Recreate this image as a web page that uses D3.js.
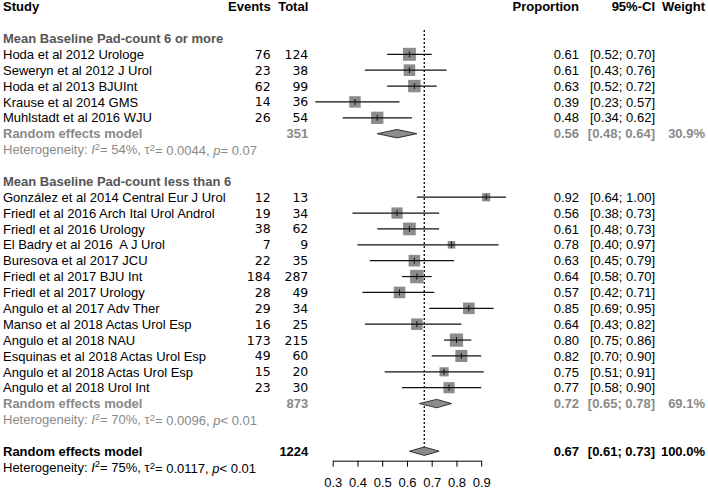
<!DOCTYPE html>
<html><head><meta charset="utf-8">
<script src="https://cdn.jsdelivr.net/npm/d3@7"></script>
<style>
html,body{margin:0;padding:0;background:#fff;}
svg{display:block;font-family:"Liberation Sans",Arial,sans-serif;}
text{white-space:pre;}
</style></head>
<body>
<script>
// ---- data ----
const groupLabels = ["Mean Baseline Pad-count 6 or more", "Mean Baseline Pad-count less than 6"];
const studies = [
  "Hoda et al 2012 Urologe", "Seweryn et al 2012 J Urol", "Hoda et al 2013 BJUInt",
  "Krause et al 2014 GMS", "Muhlstadt et al 2016 WJU",
  "González et al 2014 Central Eur J Urol", "Friedl et al 2016 Arch Ital Urol Androl",
  "Friedl et al 2016 Urology", "El Badry et al 2016  A J Urol", "Buresova et al 2017 JCU",
  "Friedl et al 2017 BJU Int", "Friedl et al 2017 Urology", "Angulo et al 2017 Adv Ther",
  "Manso et al 2018 Actas Urol Esp", "Angulo et al 2018 NAU", "Esquinas et al 2018 Actas Urol Esp",
  "Angulo et al 2018 Actas Urol Esp", "Angulo et al 2018 Urol Int"
];
const studyGroup = [0,0,0,0,0, 1,1,1,1,1,1,1,1,1,1,1,1,1];
const events = [76,23,62,14,26, 12,19,38,7,22,184,28,29,16,173,49,15,23];
const totals = [124,38,99,36,54, 13,34,62,9,35,287,49,34,25,215,60,20,30];
const proportion = [0.61,0.61,0.63,0.39,0.48, 0.92,0.56,0.61,0.78,0.63,0.64,0.57,0.85,0.64,0.80,0.82,0.75,0.77];
const lower = [0.52,0.43,0.52,0.23,0.34, 0.64,0.38,0.48,0.40,0.45,0.58,0.42,0.69,0.43,0.75,0.70,0.51,0.58];
const upper = [0.70,0.76,0.72,0.57,0.62, 1.00,0.73,0.73,0.97,0.79,0.70,0.71,0.95,0.82,0.86,0.90,0.91,0.90];
// estimated individual study weights (%) (random effects)
const weights = [7.0,5.6,6.5,5.5,6.3, 2.8,5.3,6.7,2.4,5.6,7.5,5.6,5.6,5.5,7.3,6.1,3.5,5.2];

const groupTotal = [351, 873];
const groupEst = [0.56, 0.72];
const groupLower = [0.48, 0.65];
const groupUpper = [0.64, 0.78];
const groupWeight = ["30.9%", "69.1%"];
const groupHet = [
  {i2: "54%", tau2: "0.0044", p: "= 0.07"},
  {i2: "70%", tau2: "0.0096", p: "< 0.01"}
];
const overall = {total: 1224, est: 0.67, lower: 0.61, upper: 0.73, weight: "100.0%",
  i2: "75%", tau2: "0.0117", p: "< 0.01"};
const axisTicks = [0.3, 0.4, 0.5, 0.6, 0.7, 0.8, 0.9];

// ---- layout ----
const W = 708, H = 490;
const svg = d3.select("body").append("svg").attr("width", W).attr("height", H);
const x = d3.scaleLinear().domain([0.3, 0.9]).range([332.7, 481.2]);
const y = d3.scaleLinear().domain([3, 24]).range([54.3, 387.7]);
const boxSide = d3.scaleSqrt().domain([0, 7.5]).range([0, 13.4]);
const fs = 13;
const grey = "#8a8a8a", hdrGrey = "#555";
const numFont = "DejaVu Sans, sans-serif";
const colStudy = 3, colEvents = 270.7, colTotal = 308.3, colProp = 579, colCI = 655, colW = 705;

// assign rows
const rows = [];
let r = 2;
groupLabels.forEach((g, gi) => {
  rows.push({type: "ghead", row: r++, label: g});
  studies.forEach((s, i) => { if (studyGroup[i] === gi) rows.push({type: "study", row: r++, i}); });
  rows.push({type: "grand", row: r++, gi});
  rows.push({type: "ghet", row: r++, gi});
  r++;
});
const overallRow = r, overallHetRow = r + 1;

function txt(xp, row, s, opt = {}) {
  const t = svg.append("text").attr("x", xp).attr("y", y(row)).attr("dy", "0.36em")
    .attr("font-size", opt.size || fs).attr("font-weight", opt.bold ? "bold" : "normal")
    .attr("fill", opt.color || "#000").attr("text-anchor", opt.anchor || "start").text(s);
  if (opt.family) t.attr("font-family", opt.family);
  return t;
}
function het(row, h, color) {
  const t = svg.append("text").attr("x", colStudy).attr("y", y(row)).attr("dy", "0.36em")
    .attr("font-size", 13).attr("fill", color);
  t.append("tspan").text("Heterogeneity: ");
  t.append("tspan").attr("font-style", "italic").text("I");
  t.append("tspan").attr("font-size", 9.5).attr("dy", "-0.45em").text("2");
  t.append("tspan").attr("dy", "0.32em").text("= " + h.i2 + ", τ");
  t.append("tspan").attr("font-size", 9.5).attr("dy", "-0.32em").text("2");
  t.append("tspan").attr("dy", "0.32em").text("= " + h.tau2 + ", ");
  t.append("tspan").attr("font-style", "italic").text("p");
  t.append("tspan").text(h.p);
}
const f2 = d3.format(".2f");
const ciText = (l, u) => "[" + f2(l) + "; " + f2(u) + "]";

// headers
txt(colStudy, 0, "Study", {bold: true});
txt(colEvents, 0, "Events", {bold: true, anchor: "end"});
txt(colTotal, 0, "Total", {bold: true, anchor: "end"});
txt(colProp, 0, "Proportion", {bold: true, anchor: "end"});
txt(colCI, 0, "95%-CI", {bold: true, anchor: "end"});
txt(colW, 0, "Weight", {bold: true, anchor: "end"});

// reference dotted line at overall estimate
svg.append("line").attr("x1", x(overall.est)).attr("x2", x(overall.est))
  .attr("y1", 30).attr("y2", y(overallRow) - 3)
  .attr("stroke", "#000").attr("stroke-width", 1.3).attr("stroke-dasharray", "2,2");

function diamond(row, lo, est, hi, color) {
  const yc = y(row), h = 4.2;
  svg.append("path")
    .attr("d", `M${x(lo)},${yc}L${x(est)},${yc - h}L${x(hi)},${yc}L${x(est)},${yc + h}Z`)
    .attr("fill", "#8c8c8c").attr("stroke", color).attr("stroke-width", 1);
}

rows.forEach(d => {
  if (d.type === "ghead") {
    txt(colStudy, d.row, d.label, {bold: true, color: hdrGrey});
  } else if (d.type === "study") {
    const i = d.i, yc = y(d.row), s = boxSide(weights[i]);
    txt(colStudy, d.row, studies[i]);
    txt(colEvents, d.row, events[i], {anchor: "end", family: numFont, size: 12.5});
    txt(colTotal, d.row, totals[i], {anchor: "end", family: numFont, size: 12.5});
    txt(colProp, d.row, f2(proportion[i]), {anchor: "end"});
    txt(colCI, d.row, ciText(lower[i], upper[i]), {anchor: "end"});
    svg.append("rect").attr("x", x(proportion[i]) - s / 2).attr("y", yc - s / 2)
      .attr("width", s).attr("height", s).attr("fill", "#8c8c8c");
    svg.append("line").attr("x1", x(lower[i])).attr("x2", x(upper[i]))
      .attr("y1", yc).attr("y2", yc).attr("stroke", "#111").attr("stroke-width", 1.2);
    svg.append("line").attr("x1", x(proportion[i])).attr("x2", x(proportion[i]))
      .attr("y1", yc - 3).attr("y2", yc + 3).attr("stroke", "#111").attr("stroke-width", 1);
  } else if (d.type === "grand") {
    const gi = d.gi;
    txt(colStudy, d.row, "Random effects model", {bold: true, color: grey});
    txt(colTotal, d.row, groupTotal[gi], {bold: true, color: grey, anchor: "end"});
    txt(colProp, d.row, f2(groupEst[gi]), {bold: true, color: grey, anchor: "end"});
    txt(colCI, d.row, ciText(groupLower[gi], groupUpper[gi]), {bold: true, color: grey, anchor: "end"});
    txt(colW, d.row, groupWeight[gi], {bold: true, color: grey, anchor: "end"});
    diamond(d.row, groupLower[gi], groupEst[gi], groupUpper[gi], "#333");
  } else if (d.type === "ghet") {
    het(d.row, groupHet[d.gi], grey);
  }
});

// overall
txt(colStudy, overallRow, "Random effects model", {bold: true});
txt(colTotal, overallRow, overall.total, {bold: true, anchor: "end"});
txt(colProp, overallRow, f2(overall.est), {bold: true, anchor: "end"});
txt(colCI, overallRow, ciText(overall.lower, overall.upper), {bold: true, anchor: "end"});
txt(colW, overallRow, overall.weight, {bold: true, anchor: "end"});
diamond(overallRow, overall.lower, overall.est, overall.upper, "#333");
het(overallHetRow, overall, "#000");

// axis
const ax = svg.append("g").attr("transform", "translate(0,460.7)")
  .call(d3.axisBottom(x).tickValues(axisTicks).tickFormat(d3.format(".1f"))
    .tickSize(6).tickSizeOuter(0).tickPadding(11));
ax.selectAll("text").attr("font-size", 13).attr("font-family", "Liberation Sans, Arial, sans-serif").attr("fill", "#000");
ax.selectAll("line,path").attr("stroke", "#000").attr("stroke-width", 1);
</script>
</body></html>
